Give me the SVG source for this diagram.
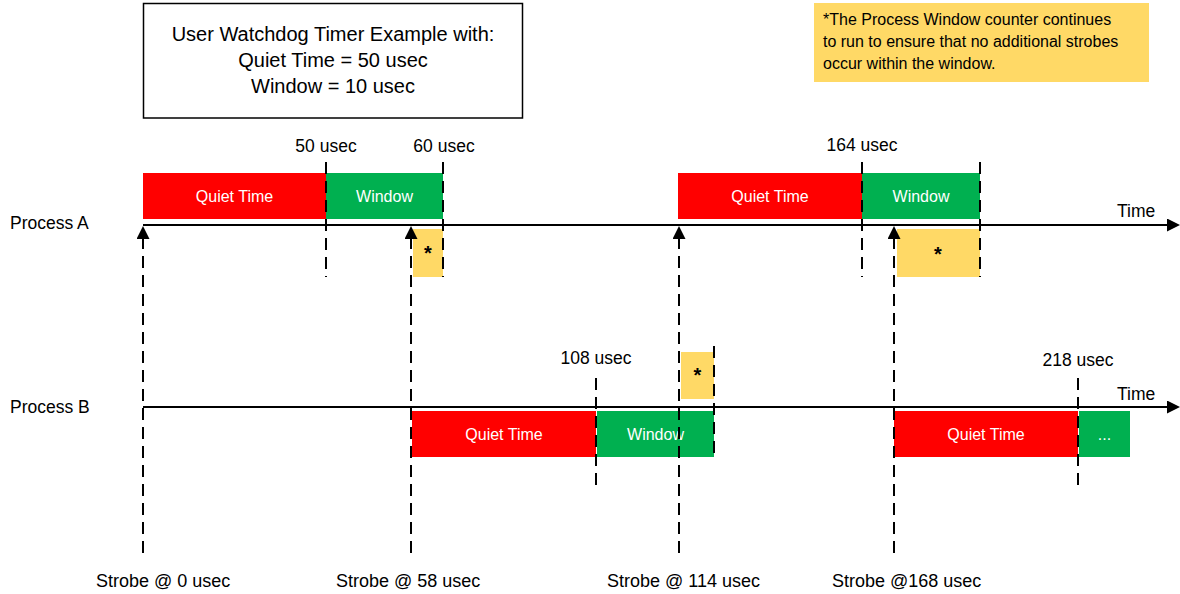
<svg xmlns="http://www.w3.org/2000/svg" width="1180" height="594" viewBox="0 0 1180 594">
<style>
text{font-family:"Liberation Sans",Arial,sans-serif;fill:#000}
.t20{font-size:20px}
.lbl{font-size:17.5px}
.strobe{font-size:18px}
.note{font-size:16px}
.bar{font-size:16px;fill:#fff}
.star{font-size:20px;font-weight:bold}
.red{fill:#FF0000}
.green{fill:#00B050}
.yel{fill:#FFD966}
.axis{stroke:#000;stroke-width:2;fill:none}
.dash{stroke:#000;stroke-width:2;stroke-dasharray:12 7;fill:none}
</style>
<defs>
<marker id="ah" markerUnits="userSpaceOnUse" markerWidth="13" markerHeight="13" refX="0" refY="6.5" orient="auto">
<path d="M0,0 L13,6.5 L0,13 z" fill="#000"/>
</marker>
</defs>
<rect width="1180" height="594" fill="#fff"/>

<g id="title">
<rect x="143.5" y="3.5" width="379" height="114.5" fill="#fff" stroke="#000" stroke-width="1.5"/>
<text class="t20" x="333" y="41" text-anchor="middle">User Watchdog Timer Example with:</text>
<text class="t20" x="333" y="67" text-anchor="middle">Quiet Time = 50 usec</text>
<text class="t20" x="333" y="93" text-anchor="middle">Window = 10 usec</text>
</g>

<g id="note">
<rect class="yel" x="814" y="3" width="335" height="79"/>
<text class="note" x="823" y="25">*The Process Window counter continues</text>
<text class="note" x="823" y="47">to run to ensure that no additional strobes</text>
<text class="note" x="823" y="69">occur within the window.</text>
</g>

<g id="processA-label"><text class="lbl" x="10" y="229">Process A</text></g>
<g id="processB-label"><text class="lbl" x="10" y="413">Process B</text></g>

<g id="a-quiet1"><rect class="red" x="143" y="173" width="183" height="46"/><text class="bar" x="234.5" y="202" text-anchor="middle">Quiet Time</text></g>
<g id="a-window1"><rect class="green" x="326" y="173" width="117" height="46"/><text class="bar" x="384.5" y="202" text-anchor="middle">Window</text></g>
<g id="a-star1"><rect class="yel" x="413" y="229" width="30" height="48"/><text class="star" x="428" y="260" text-anchor="middle">*</text></g>

<g id="a-quiet2"><rect class="red" x="678" y="173" width="184" height="46"/><text class="bar" x="770" y="202" text-anchor="middle">Quiet Time</text></g>
<g id="a-window2"><rect class="green" x="862" y="173" width="118" height="46"/><text class="bar" x="921" y="202" text-anchor="middle">Window</text></g>
<g id="a-star2"><rect class="yel" x="897" y="229" width="83" height="48"/><text class="star" x="938" y="261" text-anchor="middle">*</text></g>

<g id="b-quiet1"><rect class="red" x="412" y="411" width="184" height="46"/><text class="bar" x="504" y="440" text-anchor="middle">Quiet Time</text></g>
<g id="b-window1"><rect class="green" x="597" y="411" width="117" height="46"/><text class="bar" x="655.5" y="440" text-anchor="middle">Window</text></g>
<g id="b-star"><rect class="yel" x="681" y="352" width="33" height="47"/><text class="star" x="697.5" y="382" text-anchor="middle">*</text></g>

<g id="b-quiet2"><rect class="red" x="894" y="411" width="184" height="46"/><text class="bar" x="986" y="440" text-anchor="middle">Quiet Time</text></g>
<g id="b-window2"><rect class="green" x="1079" y="411" width="51" height="46"/><text class="bar" x="1104.5" y="440" text-anchor="middle">...</text></g>

<g id="time-labels">
<text class="lbl" x="326" y="152" text-anchor="middle">50 usec</text>
<text class="lbl" x="444" y="152" text-anchor="middle">60 usec</text>
<text class="lbl" x="862" y="151" text-anchor="middle">164 usec</text>
<text class="lbl" x="596" y="364" text-anchor="middle">108 usec</text>
<text class="lbl" x="1078" y="366" text-anchor="middle">218 usec</text>
<text class="lbl" x="1117" y="217">Time</text>
<text class="lbl" x="1117" y="400">Time</text>
</g>

<g id="strobe-labels">
<text class="strobe" x="96" y="587">Strobe @ 0 usec</text>
<text class="strobe" x="336" y="587">Strobe @ 58 usec</text>
<text class="strobe" x="607" y="587">Strobe @ 114 usec</text>
<text class="strobe" x="832" y="587">Strobe @168 usec</text>
</g>

<g id="connectors">
<line class="axis" x1="143" y1="225" x2="1167" y2="225" marker-end="url(#ah)"/>
<line class="axis" x1="143" y1="407" x2="1167" y2="407" marker-end="url(#ah)"/>
<line class="dash" x1="326" y1="162" x2="326" y2="277"/>
<line class="dash" x1="443" y1="162" x2="443" y2="277"/>
<line class="dash" x1="862" y1="162" x2="862" y2="277"/>
<line class="dash" x1="980" y1="162" x2="980" y2="277"/>
<line class="dash" x1="596" y1="378" x2="596" y2="492"/>
<line class="dash" x1="714" y1="346" x2="714" y2="458"/>
<line class="dash" x1="1078" y1="378" x2="1078" y2="492"/>
<line class="dash" x1="143" y1="553" x2="143" y2="239" marker-end="url(#ah)"/>
<line class="dash" x1="411" y1="553" x2="411" y2="239" marker-end="url(#ah)"/>
<line class="dash" x1="679" y1="553" x2="679" y2="239" marker-end="url(#ah)"/>
<line class="dash" x1="894" y1="553" x2="894" y2="239" marker-end="url(#ah)"/>
</g>
</svg>
